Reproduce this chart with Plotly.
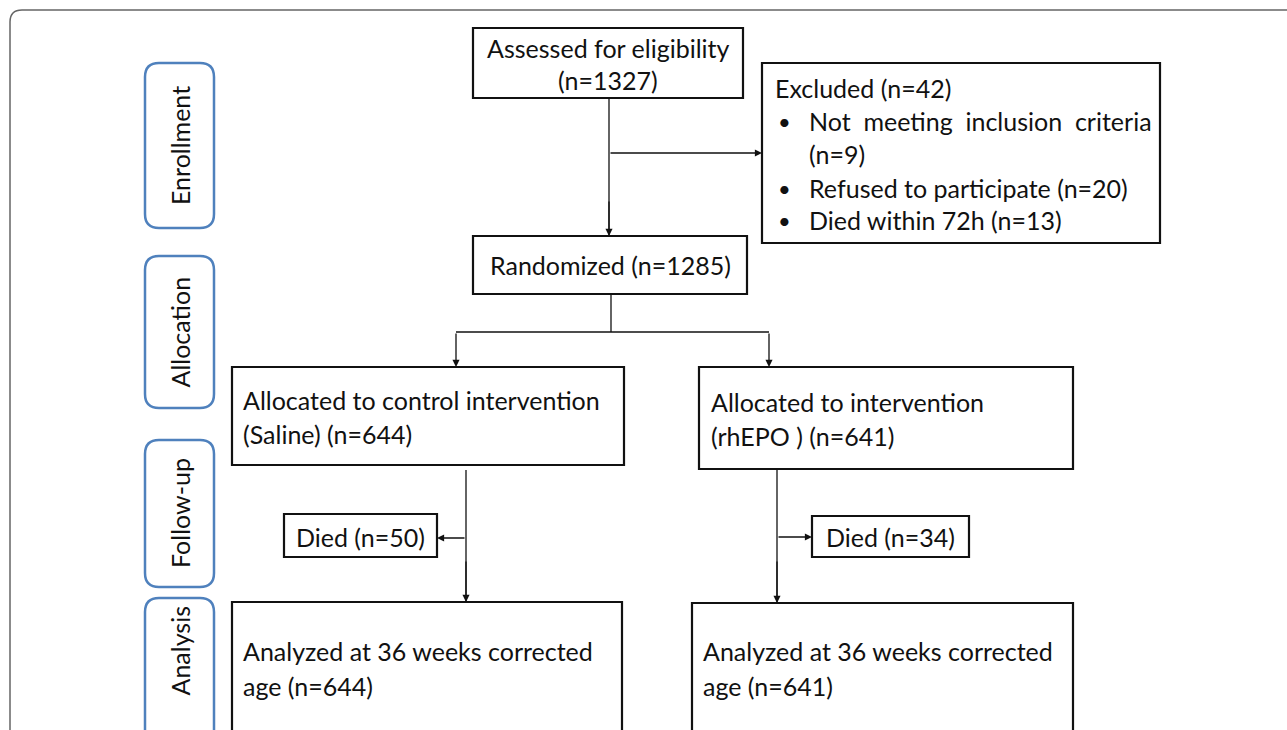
import plotly.graph_objects as go

# ---- data ----
phase_labels = ["Enrollment", "Allocation", "Follow-up", "Analysis"]
assessed_n = 1327
excluded_n = 42
excluded_reasons = ["Not meeting inclusion criteria", "Refused to participate", "Died within 72h"]
excluded_counts = [9, 20, 13]
randomized_n = 1285
arm_names = ["control intervention", "intervention"]
arm_agents = ["Saline", "rhEPO "]
allocated_n = [644, 641]
died_n = [50, 34]
analyzed_n = [644, 641]

W, H = 1287, 730
FONT = "Lato"
FS = 25
TXT = "#111111"

fig = go.Figure()
shapes = []
ann = []


def rrect(x0, y0, x1, y1, r):
    return (f"M {x0+r},{y0} L {x1-r},{y0} Q {x1},{y0} {x1},{y0+r} L {x1},{y1-r} "
            f"Q {x1},{y1} {x1-r},{y1} L {x0+r},{y1} Q {x0},{y1} {x0},{y1-r} "
            f"L {x0},{y0+r} Q {x0},{y0} {x0+r},{y0} Z")


def box(x0, y0, x1, y1):
    shapes.append(dict(type="rect", xref="x", yref="y", x0=x0, y0=y0, x1=x1, y1=y1,
                       line=dict(color="#111", width=2.2), fillcolor="white", layer="below"))


def text(x, y, s, anchor="left", size=FS):
    if anchor == "left":
        x -= 3
    ann.append(dict(x=x, y=y, xref="x", yref="y", text=s, showarrow=False,
                    xanchor=anchor, yanchor="middle",
                    font=dict(family=FONT, size=size, color=TXT)))


def line(x0, y0, x1, y1):
    shapes.append(dict(type="line", xref="x", yref="y", x0=x0, y0=y0, x1=x1, y1=y1,
                       line=dict(color="#111", width=1.3)))


def arrow(x0, y0, x1, y1):
    ann.append(dict(x=x1, y=y1, ax=x0, ay=y0, xref="x", yref="y", axref="x", ayref="y",
                    text="", showarrow=True, arrowhead=2, arrowsize=1.1, arrowwidth=1.3,
                    arrowcolor="#111", standoff=0, startstandoff=0))


# outer frame
shapes.append(dict(type="path", xref="x", yref="y",
                   path="M 10,760 L 10,22 Q 10,10 22,10 L 1300,10",
                   line=dict(color="#666", width=1.5)))

# phase labels
phase_boxes = [(145, 63, 214, 228), (145, 256, 214, 408), (145, 440, 214, 587), (145, 598, 214, 760)]
for lab, (x0, y0, x1, y1) in zip(phase_labels, phase_boxes):
    shapes.append(dict(type="path", xref="x", yref="y", path=rrect(x0, y0, x1, y1, 14),
                       line=dict(color="#4f81bd", width=2.5), fillcolor="white"))
    cy = (y0 + y1) / 2 if y1 < 730 else 651
    ann.append(dict(x=(x0 + x1) / 2, y=cy, xref="x", yref="y", text=lab, showarrow=False,
                    textangle=-90, xanchor="center", yanchor="middle",
                    font=dict(family=FONT, size=25, color=TXT)))

# assessed
box(473, 28, 743, 98)
text(608, 48, "Assessed for eligibility", "center")
text(608, 80, f"(n={assessed_n})", "center")

# excluded
box(762, 63, 1160, 243)
text(776, 88, f"Excluded (n={excluded_n})")
ex_y = [121, 188, 220]
for i, (r, c) in enumerate(zip(excluded_reasons, excluded_counts)):
    text(779, ex_y[i], "•", size=22)
    if i == 0:
        text(810, ex_y[i], r.replace(" ", "&nbsp;&nbsp;"))
        text(810, 154, f"(n={c})")
    else:
        text(810, ex_y[i], f"{r} (n={c})")

# randomized
box(473, 236, 747, 294)
text(610, 265, f"Randomized (n={randomized_n})", "center")

# arrows enrollment
line(609, 98, 609, 236)
arrow(609, 200, 609, 236)
arrow(609, 153, 762, 153)

# split
line(611, 294, 611, 332)
line(456, 332, 769, 332)
arrow(456, 332, 456, 367)
arrow(769, 332, 769, 367)

# allocation boxes
box(232, 367, 624, 465)
text(244, 400, f"Allocated to {arm_names[0]}")
text(244, 434, f"({arm_agents[0]}) (n={allocated_n[0]})")
box(699, 367, 1073, 469)
text(712, 402, f"Allocated to {arm_names[1]}")
text(712, 436, f"({arm_agents[1]}) (n={allocated_n[1]})")

# follow-up
box(284, 514, 437, 557)
text(360, 537, f"Died (n={died_n[0]})", "center")
box(812, 516, 969, 557)
text(890, 537, f"Died (n={died_n[1]})", "center")

line(466, 470, 466, 602)
arrow(466, 560, 466, 602)
arrow(466, 538, 437, 538)
line(777, 469, 777, 603)
arrow(777, 560, 777, 603)
arrow(777, 537, 812, 537)

# analysis
box(232, 602, 622, 760)
text(244, 651, "Analyzed at 36 weeks corrected")
text(244, 686, f"age (n={analyzed_n[0]})")
box(692, 603, 1073, 760)
text(704, 651, "Analyzed at 36 weeks corrected")
text(704, 686, f"age (n={analyzed_n[1]})")

fig.update_layout(
    width=W, height=H, margin=dict(l=0, r=0, t=0, b=0),
    paper_bgcolor="white", plot_bgcolor="white",
    xaxis=dict(range=[0, W], visible=False, fixedrange=True),
    yaxis=dict(range=[H, 0], visible=False, fixedrange=True),
    shapes=shapes, annotations=ann, showlegend=False,
)
fig.write_html("out.html", config={"displayModeBar": False},
               post_script="document.body.style.margin='0';document.body.style.overflow='hidden';")
